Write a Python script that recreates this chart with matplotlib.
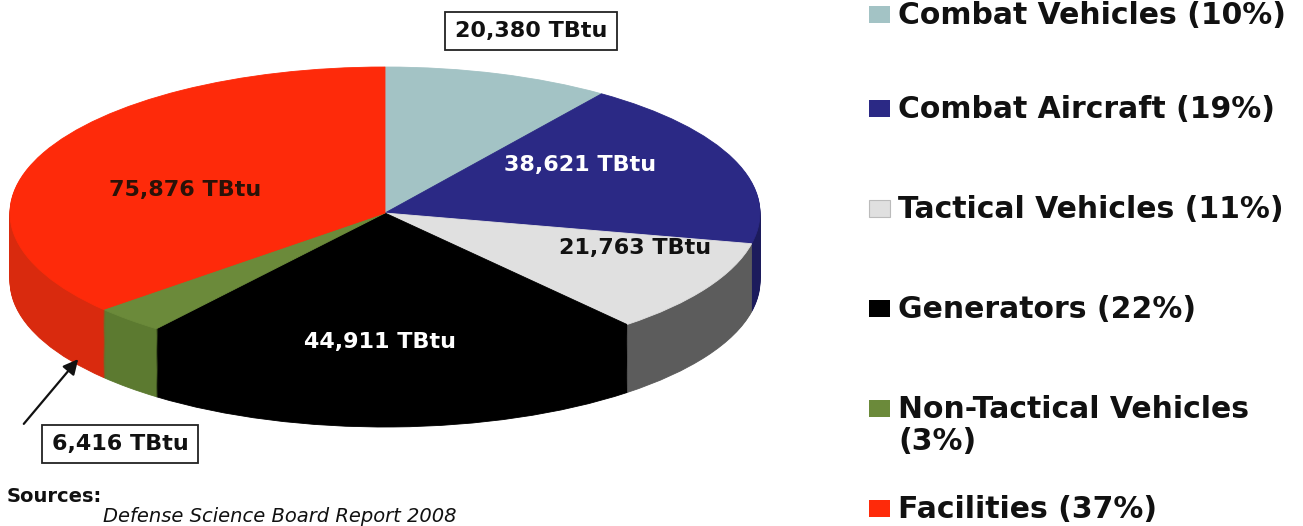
import matplotlib.pyplot as plt

categories = ["Combat Vehicles", "Combat Aircraft", "Tactical Vehicles",
              "Generators", "Non-Tactical Vehicles", "Facilities"]
energy_tbtu = [20380, 38621, 21763, 44911, 6416, 75876]
percent_labels = [10, 19, 11, 22, 3, 37]
top_colors = ["#a3c3c5", "#2b2985", "#e0e0e0", "#000000", "#6b8a3a", "#fe2a0a"]
side_colors = ["#7f9a9c", "#1c1b5c", "#5c5c5c", "#000000", "#5c7a30", "#d92a0e"]

W, H = 1303, 526
fig = plt.figure(figsize=(W / 100, H / 100), dpi=100)
ax = fig.add_axes([0, 0, 1, 1])

# pie geometry in pixels: ellipse centre, radii, depth
cx, cy, rx, ry, depth = 385, 213, 375, 146, 68


def draw_pie(colors, off):
    wedges, _ = ax.pie(energy_tbtu, colors=colors, startangle=90,
                       counterclock=False, center=(0, -off), radius=1)
    for w in wedges:
        w.set_edgecolor(w.get_facecolor())
        w.set_linewidth(0.6)


# extrusion: stacked layers from bottom to top
n_layers = 70
for i in range(n_layers, 0, -1):
    draw_pie(side_colors, depth / ry * i / n_layers)
draw_pie(top_colors, 0)

ax.set_aspect("auto")
ax.set_xlim(-cx / rx, (W - cx) / rx)
ax.set_ylim(-(H - cy) / ry, cy / ry)
ax.axis("off")


def fp(x, y):
    return (x, H - y)


lab = dict(fontsize=16, fontweight="bold", family="DejaVu Sans",
           ha="center", va="center", xycoords="figure pixels")


def tb(v):
    return f"{v:,} TBtu"


box = dict(boxstyle="square,pad=0.42", fc="white", ec="#222222", lw=1.3)
ax.annotate(tb(energy_tbtu[0]), xy=fp(531, 31), color="#111111", bbox=box, **lab)
ax.annotate(tb(energy_tbtu[1]), xy=fp(580, 165), color="white", **lab)
ax.annotate(tb(energy_tbtu[2]), xy=fp(635, 248), color="#111111", **lab)
ax.annotate(tb(energy_tbtu[3]), xy=fp(380, 342), color="white", **lab)
ax.annotate(tb(energy_tbtu[5]), xy=fp(185, 190), color="#2a1208", **lab)
ax.annotate(tb(energy_tbtu[4]), xy=fp(120, 444), color="#111111", bbox=box, **lab)
ax.annotate("", xy=fp(80, 357), xytext=fp(22, 426),
            xycoords="figure pixels", textcoords="figure pixels",
            arrowprops=dict(arrowstyle="-|>,head_length=0.9,head_width=0.45",
                            color="#111111", lw=1.6))

# legend
for k, (cat, pct) in enumerate(zip(categories, percent_labels)):
    base = 23 + 99 * k if k == 0 else 17 + 100 * k
    sep = "\n" if len(cat) > 18 else " "
    name = f"{cat}{sep}({pct}%)"
    fig.patches.append(plt.Rectangle((869 / W, (H - base) / H), 21 / W, 17 / H,
                                     transform=fig.transFigure,
                                     fc=top_colors[k],
                                     ec="#bbbbbb" if k == 2 else "none", lw=0.8))
    fig.text(898 / W, (H - base) / H, name, fontsize=21.5, fontweight="bold",
             family="DejaVu Sans", color="#111111", va="top", ha="left",
             linespacing=1.15,
             transform=fig.transFigure + plt.matplotlib.transforms.ScaledTranslation(
                 0, 22 / 100, fig.dpi_scale_trans))

fig.text(7 / W, (H - 502) / H, "Sources:", fontsize=14, fontweight="bold",
         family="DejaVu Sans", color="#111111", va="baseline")
fig.text(103 / W, (H - 522) / H, "Defense Science Board Report 2008", fontsize=14,
         style="italic", family="DejaVu Sans", color="#111111", va="baseline")

fig.savefig("out.png", dpi=100, facecolor="white")
